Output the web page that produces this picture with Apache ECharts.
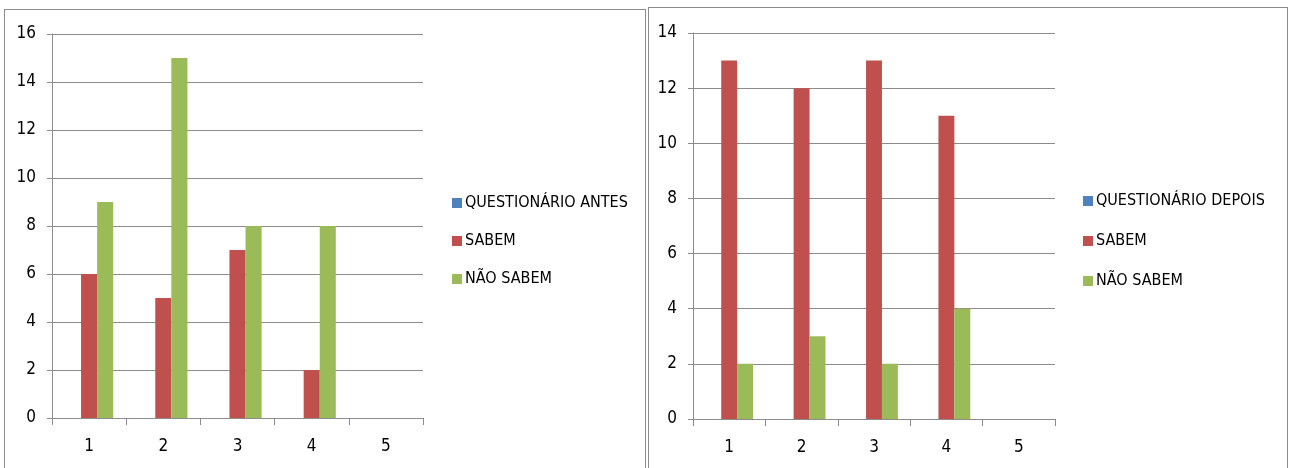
<!DOCTYPE html>
<html>
<head>
<meta charset="utf-8">
<script src="https://cdn.jsdelivr.net/npm/echarts@6/dist/echarts.min.js"></script>
<style>
  html, body { margin: 0; padding: 0; background: #fff; width: 1291px; height: 468px; overflow: hidden; }
  .chart-box { position: absolute; border: 1px solid #8c8c8c; background: #fff; }
  #antes { left: 4px; top: 9px; width: 640px; height: 480px; }
  #depois { left: 648px; top: 7px; width: 638px; height: 482px; }
</style>
</head>
<body>
<div class="chart-box" id="antes"></div>
<div class="chart-box" id="depois"></div>
<script>
  // categorias e valores
  const categories = ['1', '2', '3', '4', '5'];
  const antesQuestionario = [null, null, null, null, null];
  const antesSabem = [6, 5, 7, 2, null];
  const antesNaoSabem = [9, 15, 8, 8, null];
  const depoisQuestionario = [null, null, null, null, null];
  const depoisSabem = [13, 12, 13, 11, null];
  const depoisNaoSabem = [2, 3, 2, 4, null];

  const font = '"Liberation Sans Narrow", "DejaVu Sans Condensed", sans-serif';
  const colors = ['#4F81BD', '#C0504D', '#9BBB59'];

  function makeOption(cfg) {
    return {
      animation: false,
      color: colors,
      textStyle: { fontFamily: font },
      grid: cfg.grid,
      legend: {
        orient: 'vertical',
        left: cfg.legendLeft,
        top: cfg.legendTop,
        itemWidth: 10,
        itemHeight: 10,
        itemGap: cfg.legendGap,
        icon: 'rect',
        textStyle: { fontFamily: font, fontSize: 16, color: '#000', padding: [0, 0, 0, -2] },
        data: cfg.names
      },
      xAxis: {
        type: 'category',
        data: categories,
        axisLine: { lineStyle: { color: '#8c8c8c' } },
        axisTick: { show: true, length: 7, lineStyle: { color: '#8c8c8c' } },
        axisLabel: { color: '#000', fontSize: 17, margin: 20, fontFamily: font }
      },
      yAxis: {
        type: 'value',
        min: 0,
        max: cfg.max,
        interval: 2,
        axisLine: { show: true, lineStyle: { color: '#8c8c8c' } },
        axisTick: { show: true, length: 5, lineStyle: { color: '#8c8c8c' } },
        axisLabel: { color: '#000', fontSize: 17, margin: 16, fontFamily: font },
        splitLine: { lineStyle: { color: '#8c8c8c' } }
      },
      series: [
        { name: cfg.names[0], type: 'bar', data: cfg.data[0], barGap: '0%', barCategoryGap: cfg.gap },
        { name: cfg.names[1], type: 'bar', data: cfg.data[1], barGap: '0%', barCategoryGap: cfg.gap },
        { name: cfg.names[2], type: 'bar', data: cfg.data[2], barGap: '0%', barCategoryGap: cfg.gap }
      ]
    };
  }

  const chartAntes = echarts.init(document.getElementById('antes'));
  chartAntes.setOption(makeOption({
    grid: { left: 47, top: 24, width: 371, height: 384 },
    legendLeft: 442,
    legendTop: 180,
    legendGap: 22,
    max: 16,
    gap: '35%',
    names: ['QUESTIONÁRIO ANTES', 'SABEM', 'NÃO SABEM'],
    data: [antesQuestionario, antesSabem, antesNaoSabem]
  }));

  const chartDepois = echarts.init(document.getElementById('depois'));
  chartDepois.setOption(makeOption({
    grid: { left: 44, top: 25, width: 362, height: 386 },
    legendLeft: 429,
    legendTop: 180,
    legendGap: 24,
    max: 14,
    gap: '34%',
    names: ['QUESTIONÁRIO DEPOIS', 'SABEM', 'NÃO SABEM'],
    data: [depoisQuestionario, depoisSabem, depoisNaoSabem]
  }));
</script>
</body>
</html>
